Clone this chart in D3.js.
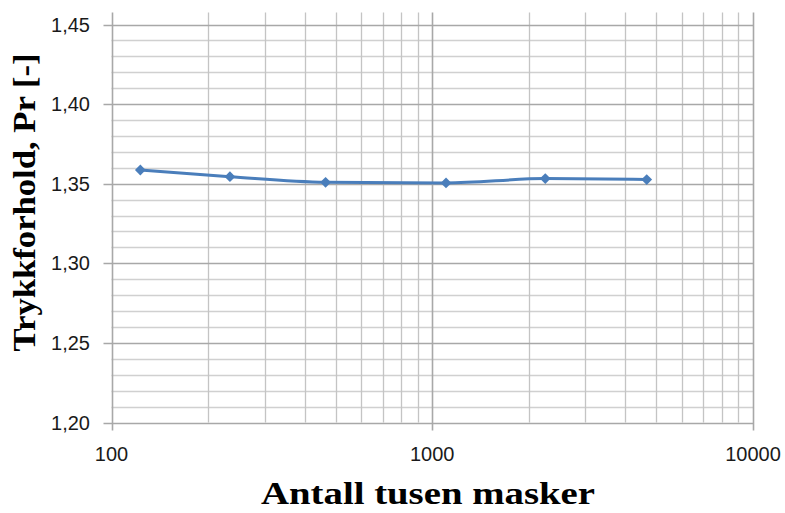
<!DOCTYPE html>
<html>
<head>
<meta charset="utf-8">
<script src="https://cdn.jsdelivr.net/npm/d3@7"></script>
<style>
  html, body { margin: 0; padding: 0; background: #fff; }
  svg { display: block; }
</style>
</head>
<body>
<svg id="chart" width="785" height="513"></svg>
<script>
// Mesh size (thousands of cells) and resulting pressure ratio
const meshSizes = [123, 234, 465, 1104, 2251, 4663];
const pressureRatio = [1.3586, 1.3544, 1.3509, 1.3505, 1.3532, 1.3526];

const xTickValues = [100, 1000, 10000];
const yTickValues = [1.20, 1.25, 1.30, 1.35, 1.40, 1.45];
const yMinorValues = d3.range(120, 146).map(v => v / 100);
const xMinorValues = [100, 200, 300, 400, 500, 600, 700, 800, 900,
                      1000, 2000, 3000, 4000, 5000, 6000, 7000, 8000, 9000, 10000];

const xTitle = "Antall tusen masker";
const yTitle = "Trykkforhold, Pr [-]";

const svg = d3.select("#chart");
const plotLeft = 111.5, plotRight = 753, plotTop = 24.5, plotBottom = 422.5;

const x = d3.scaleLog().domain([100, 10000]).range([plotLeft, plotRight]);
const y = d3.scaleLinear().domain([1.20, 1.45]).range([plotBottom, plotTop]);

const fmtY = v => d3.format(".2f")(v).replace(".", ",");

// Minor horizontal gridlines (every 0.01)
svg.append("g").selectAll("line")
  .data(yMinorValues.filter(v => Math.round(v * 100) % 5 !== 0))
  .join("line")
  .attr("x1", plotLeft).attr("x2", plotRight)
  .attr("y1", d => Math.round(y(d)) + 0.5).attr("y2", d => Math.round(y(d)) + 0.5)
  .attr("stroke", "#d0d0d0").attr("stroke-width", 1.3);

// Vertical gridlines for every log step, reaching a little above the plot
svg.append("g").selectAll("line")
  .data(xMinorValues)
  .join("line")
  .attr("x1", d => Math.round(x(d)) + 0.5).attr("x2", d => Math.round(x(d)) + 0.5)
  .attr("y1", 12.5)
  .attr("y2", d => xTickValues.includes(d) ? plotBottom + 8 : plotBottom)
  .attr("stroke", d => xTickValues.includes(d) ? "#a8a8a8" : "#c4c4c4")
  .attr("stroke-width", d => xTickValues.includes(d) ? 1.6 : 1.3);

// Major horizontal gridlines with short outward ticks
svg.append("g").selectAll("line")
  .data(yTickValues)
  .join("line")
  .attr("x1", plotLeft - 8).attr("x2", plotRight)
  .attr("y1", d => Math.round(y(d)) + 0.5).attr("y2", d => Math.round(y(d)) + 0.5)
  .attr("stroke", "#a8a8a8").attr("stroke-width", 1.6);

// Axis tick labels
svg.append("g").selectAll("text")
  .data(yTickValues)
  .join("text")
  .attr("x", 90).attr("y", d => y(d))
  .attr("text-anchor", "end").attr("dominant-baseline", "central")
  .attr("font-family", "'Liberation Sans', Arial, sans-serif")
  .attr("font-size", 20).attr("fill", "#1a1a1a")
  .text(fmtY);

svg.append("g").selectAll("text")
  .data(xTickValues)
  .join("text")
  .attr("x", d => x(d)).attr("y", 461)
  .attr("text-anchor", "middle")
  .attr("font-family", "'Liberation Sans', Arial, sans-serif")
  .attr("font-size", 20).attr("fill", "#1a1a1a")
  .text(d => d);

// Axis titles
svg.append("text")
  .attr("x", 428).attr("y", 503.5)
  .attr("text-anchor", "middle")
  .attr("font-family", "'Liberation Serif', 'Times New Roman', serif")
  .attr("font-weight", "bold").attr("font-size", 31)
  .attr("textLength", 334).attr("lengthAdjust", "spacingAndGlyphs")
  .text(xTitle);

svg.append("text")
  .attr("transform", "translate(35,202.5) rotate(-90)")
  .attr("text-anchor", "middle")
  .attr("font-family", "'Liberation Serif', 'Times New Roman', serif")
  .attr("font-weight", "bold").attr("font-size", 32)
  .attr("textLength", 298).attr("lengthAdjust", "spacingAndGlyphs")
  .text(yTitle);

// Data series
const pts = meshSizes.map((m, i) => [m, pressureRatio[i]]);
svg.append("path")
  .datum(pts)
  .attr("fill", "none")
  .attr("stroke", "#4a7ebb").attr("stroke-width", 3)
  .attr("stroke-linejoin", "round").attr("stroke-linecap", "round")
  .attr("d", d3.line().x(d => x(d[0])).y(d => y(d[1])).curve(d3.curveMonotoneX));

// Diamond markers: squares turned by 45 degrees
svg.append("g").selectAll("path")
  .data(pts)
  .join("path")
  .attr("transform", d => `translate(${x(d[0])},${y(d[1])}) rotate(45)`)
  .attr("d", d3.symbol(d3.symbolSquare, 58))
  .attr("fill", "#4a7ebb");
</script>
</body>
</html>
